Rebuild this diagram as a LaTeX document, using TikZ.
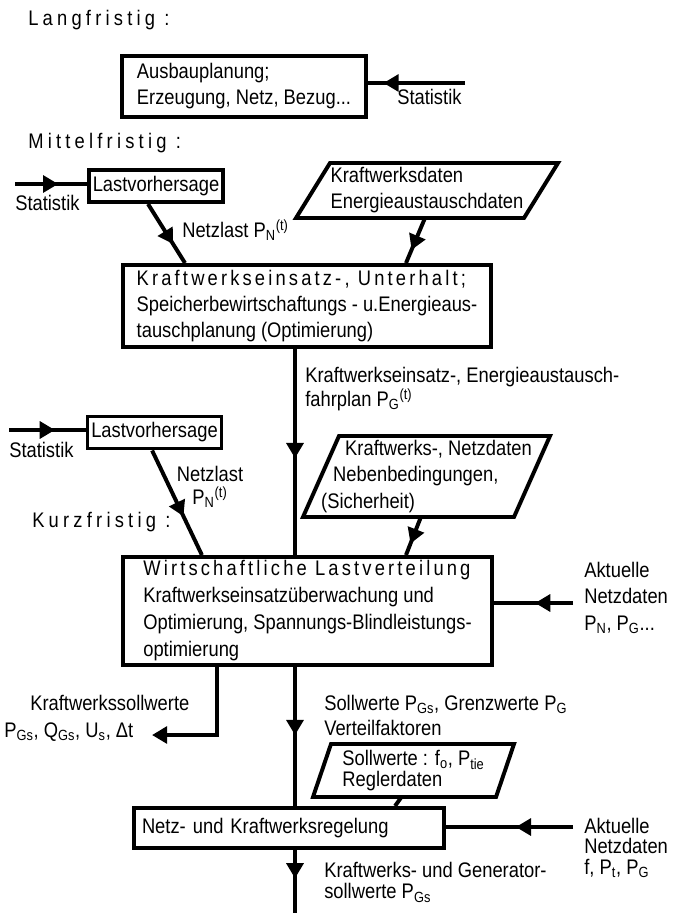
\documentclass[tikz,border=0pt]{standalone}
\usepackage{fontspec}
\setmainfont{Liberation Sans}[FakeStretch=0.87]
\newfontfamily\spacedfont{Liberation Sans}[FakeStretch=0.87,LetterSpace=20]
\newfontfamily\headfont{Liberation Sans}[FakeStretch=0.87,LetterSpace=15]
\usepackage{tikz}
\usetikzlibrary{arrows.meta,decorations.markings}
\newcommand{\txt}{\fontsize{15}{18.5}\selectfont}

\begin{document}
\begin{tikzpicture}[
    box/.style={draw, line width=2.8pt, align=left, inner sep=2pt, font=\txt},
    para/.style={align=left, inner sep=0pt, outer sep=0pt, font=\txt},
    lbl/.style={anchor=west, align=left, inner sep=0pt, font=\txt},
    flow/.style={line width=2.8pt},
    midarrow/.style={flow, postaction={decorate}, decoration={markings,
        mark=at position #1 with {\arrow{Triangle[length=0.38cm, width=0.42cm]}}}},
]
\useasboundingbox (0,0) rectangle (16.825,-22.9);

\node[lbl, font=\spacedfont\txt] (lang) at (0.7,-0.5) {Langfristig :};
\node[box, minimum width=6.1cm, minimum height=1.525cm] (ausb) at (6.1,-2.1625) {Ausbauplanung;\\Erzeugung, Netz, Bezug...};
\coordinate (stat0) at (11.625,-2.075);
\node[lbl] (stl0) at (9.925,-2.425) {Statistik};

\node[lbl, font=\spacedfont\txt] (mittel) at (0.7,-3.575) {Mittelfristig :};
\node[box, minimum width=3.35cm, minimum height=0.8cm] (lv1) at (3.9,-4.65) {Lastvorhersage};
\coordinate (stat1) at (0.375,-4.6);
\node[lbl] (stl1) at (0.375,-5.075) {Statistik};
\node[para, minimum width=6.55cm, minimum height=1.375cm] (kwd) at (10.675,-4.7625) {Kraftwerksdaten\\Energieaustauschdaten};
\draw[flow] ([xshift=0.85cm]kwd.north west) -- (kwd.north east) -- ([xshift=-0.85cm]kwd.south east) -- (kwd.south west) -- cycle;
\node[lbl] (nl1) at (4.55,-5.75) {Netzlast P\textsubscript{N}\textsuperscript{(t)}};
\node[box, minimum width=9.2cm, minimum height=2.05cm] (eins) at (7.675,-7.65) {{\headfont Kraftwerkseinsatz-, Unterhalt;}\\Speicherbewirtschaftungs - u.Energieaus-\\tauschplanung (Optimierung)};
\node[lbl, font=\fontsize{15}{13.5}\selectfont] (fp) at (7.625,-9.725) {Kraftwerkseinsatz-, Energieaustausch-\\fahrplan P\textsubscript{G}\textsuperscript{(t)}};

\node[box, minimum width=3.35cm, minimum height=0.8cm] (lv2) at (3.8625,-10.8125) {Lastvorhersage};
\coordinate (stat2) at (0.225,-10.75);
\node[lbl] (stl2) at (0.225,-11.25) {Statistik};
\node[lbl, anchor=center, align=center, font=\fontsize{15}{16.5}\selectfont] (nl2) at (5.25,-12.175) {Netzlast\\P\textsubscript{N}\textsuperscript{(t)}};
\node[lbl, font=\spacedfont\txt] (kurz) at (0.8,-13.05) {Kurzfristig :};
\node[para, minimum width=6.175cm, minimum height=2.025cm, font=\fontsize{15}{18.8}\selectfont] (kwn) at (10.6625,-11.9125) {\hspace*{0.6cm}Kraftwerks-, Netzdaten\\\hspace*{0.3cm}Nebenbedingungen,\\(Sicherheit)};
\draw[flow] ([xshift=0.9cm]kwn.north west) -- (kwn.north east) -- ([xshift=-0.9cm]kwn.south east) -- (kwn.south west) -- cycle;
\node[box, minimum width=9.225cm, minimum height=2.7cm, font=\fontsize{15}{19.2}\selectfont] (wlv) at (7.6875,-15.275) {{\headfont Wirtschaftliche Lastverteilung}\\Kraftwerkseinsatzüberwachung und\\Optimierung, Spannungs-Blindleistungs-\\optimierung};
\coordinate (akt1) at (14.325,-15.075);
\node[lbl, font=\fontsize{15}{18.8}\selectfont] (ak1) at (14.6,-14.95) {Aktuelle\\Netzdaten\\P\textsubscript{N}, P\textsubscript{G}...};

\coordinate (ksw) at (3.8,-18.375);
\node[lbl] (ksl) at (0.75,-17.575) {Kraftwerkssollwerte};
\node[lbl] (ksv) at (0.1,-18.3) {P\textsubscript{Gs}, Q\textsubscript{Gs}, U\textsubscript{s}, Δt};
\node[lbl, font=\fontsize{15}{17.8}\selectfont] (sw) at (8.1,-17.89) {Sollwerte P\textsubscript{Gs}, Grenzwerte P\textsubscript{G}\\Verteilfaktoren};
\node[para, minimum width=5.025cm, minimum height=1.325cm, font=\fontsize{15}{14.5}\selectfont] (rgd) at (10.3375,-19.2625) {Sollwerte : f\textsubscript{o}, P\textsubscript{tie}\\Reglerdaten};
\draw[flow] ([xshift=0.45cm]rgd.north west) -- (rgd.north east) -- ([xshift=-0.45cm]rgd.south east) -- (rgd.south west) -- cycle;
\node[box, text width=7.35cm, inner xsep=0.2cm, minimum height=1cm] (nkr) at (7.225,-20.7) {Netz- und Kraftwerksregelung};
\coordinate (akt2) at (14.325,-20.675);
\node[lbl, font=\fontsize{15}{14.5}\selectfont] (ak2) at (14.6,-21.2) {Aktuelle\\Netzdaten\\f, P\textsubscript{t}, P\textsubscript{G}};
\coordinate (out) at (7.375,-22.825);
\node[lbl, font=\fontsize{15}{15}\selectfont] (gen) at (8.1,-22.06) {Kraftwerks- und Generator-\\sollwerte P\textsubscript{Gs}};

\draw[midarrow=0.84] (stat0) -- (stat0 -| ausb.east);
\draw[midarrow=0.6] (stat1) -- (stat1 -| lv1.west);
\draw[midarrow=0.68] ([xshift=-0.2cm]lv1.south) -- ([xshift=-3.05cm]eins.north);
\draw[midarrow=0.71] ([xshift=-0.05cm]kwd.south) -- ([xshift=2.475cm]eins.north);
\draw[midarrow=0.53] ([xshift=-0.3cm]eins.south) -- ([xshift=-0.3cm]eins.south |- wlv.north);
\draw[midarrow=0.6] (stat2) -- (stat2 -| lv2.west);
\draw[midarrow=0.63] ([xshift=-0.06cm]lv2.south) -- ([xshift=-2.64cm]wlv.north);
\draw[midarrow=0.7] ([xshift=-0.14cm]kwn.south) -- ([xshift=2.4625cm]wlv.north);
\draw[midarrow=0.48] (akt1) -- (akt1 -| wlv.east);
\draw[flow, -{Triangle[length=0.38cm, width=0.42cm]}] ([xshift=-2.2625cm]wlv.south) |- (ksw);
\draw[midarrow=0.49] ([xshift=-0.3125cm]wlv.south) -- ([xshift=-0.3125cm]wlv.south |- nkr.north);
\draw[flow] ([xshift=-0.3cm]rgd.south) -- ([xshift=2.65cm]nkr.north);
\draw[midarrow=0.45] (akt2) -- (akt2 -| nkr.east);
\draw[midarrow=0.45] ([xshift=0.15cm]nkr.south) -- (out);
\end{tikzpicture}
\end{document}
